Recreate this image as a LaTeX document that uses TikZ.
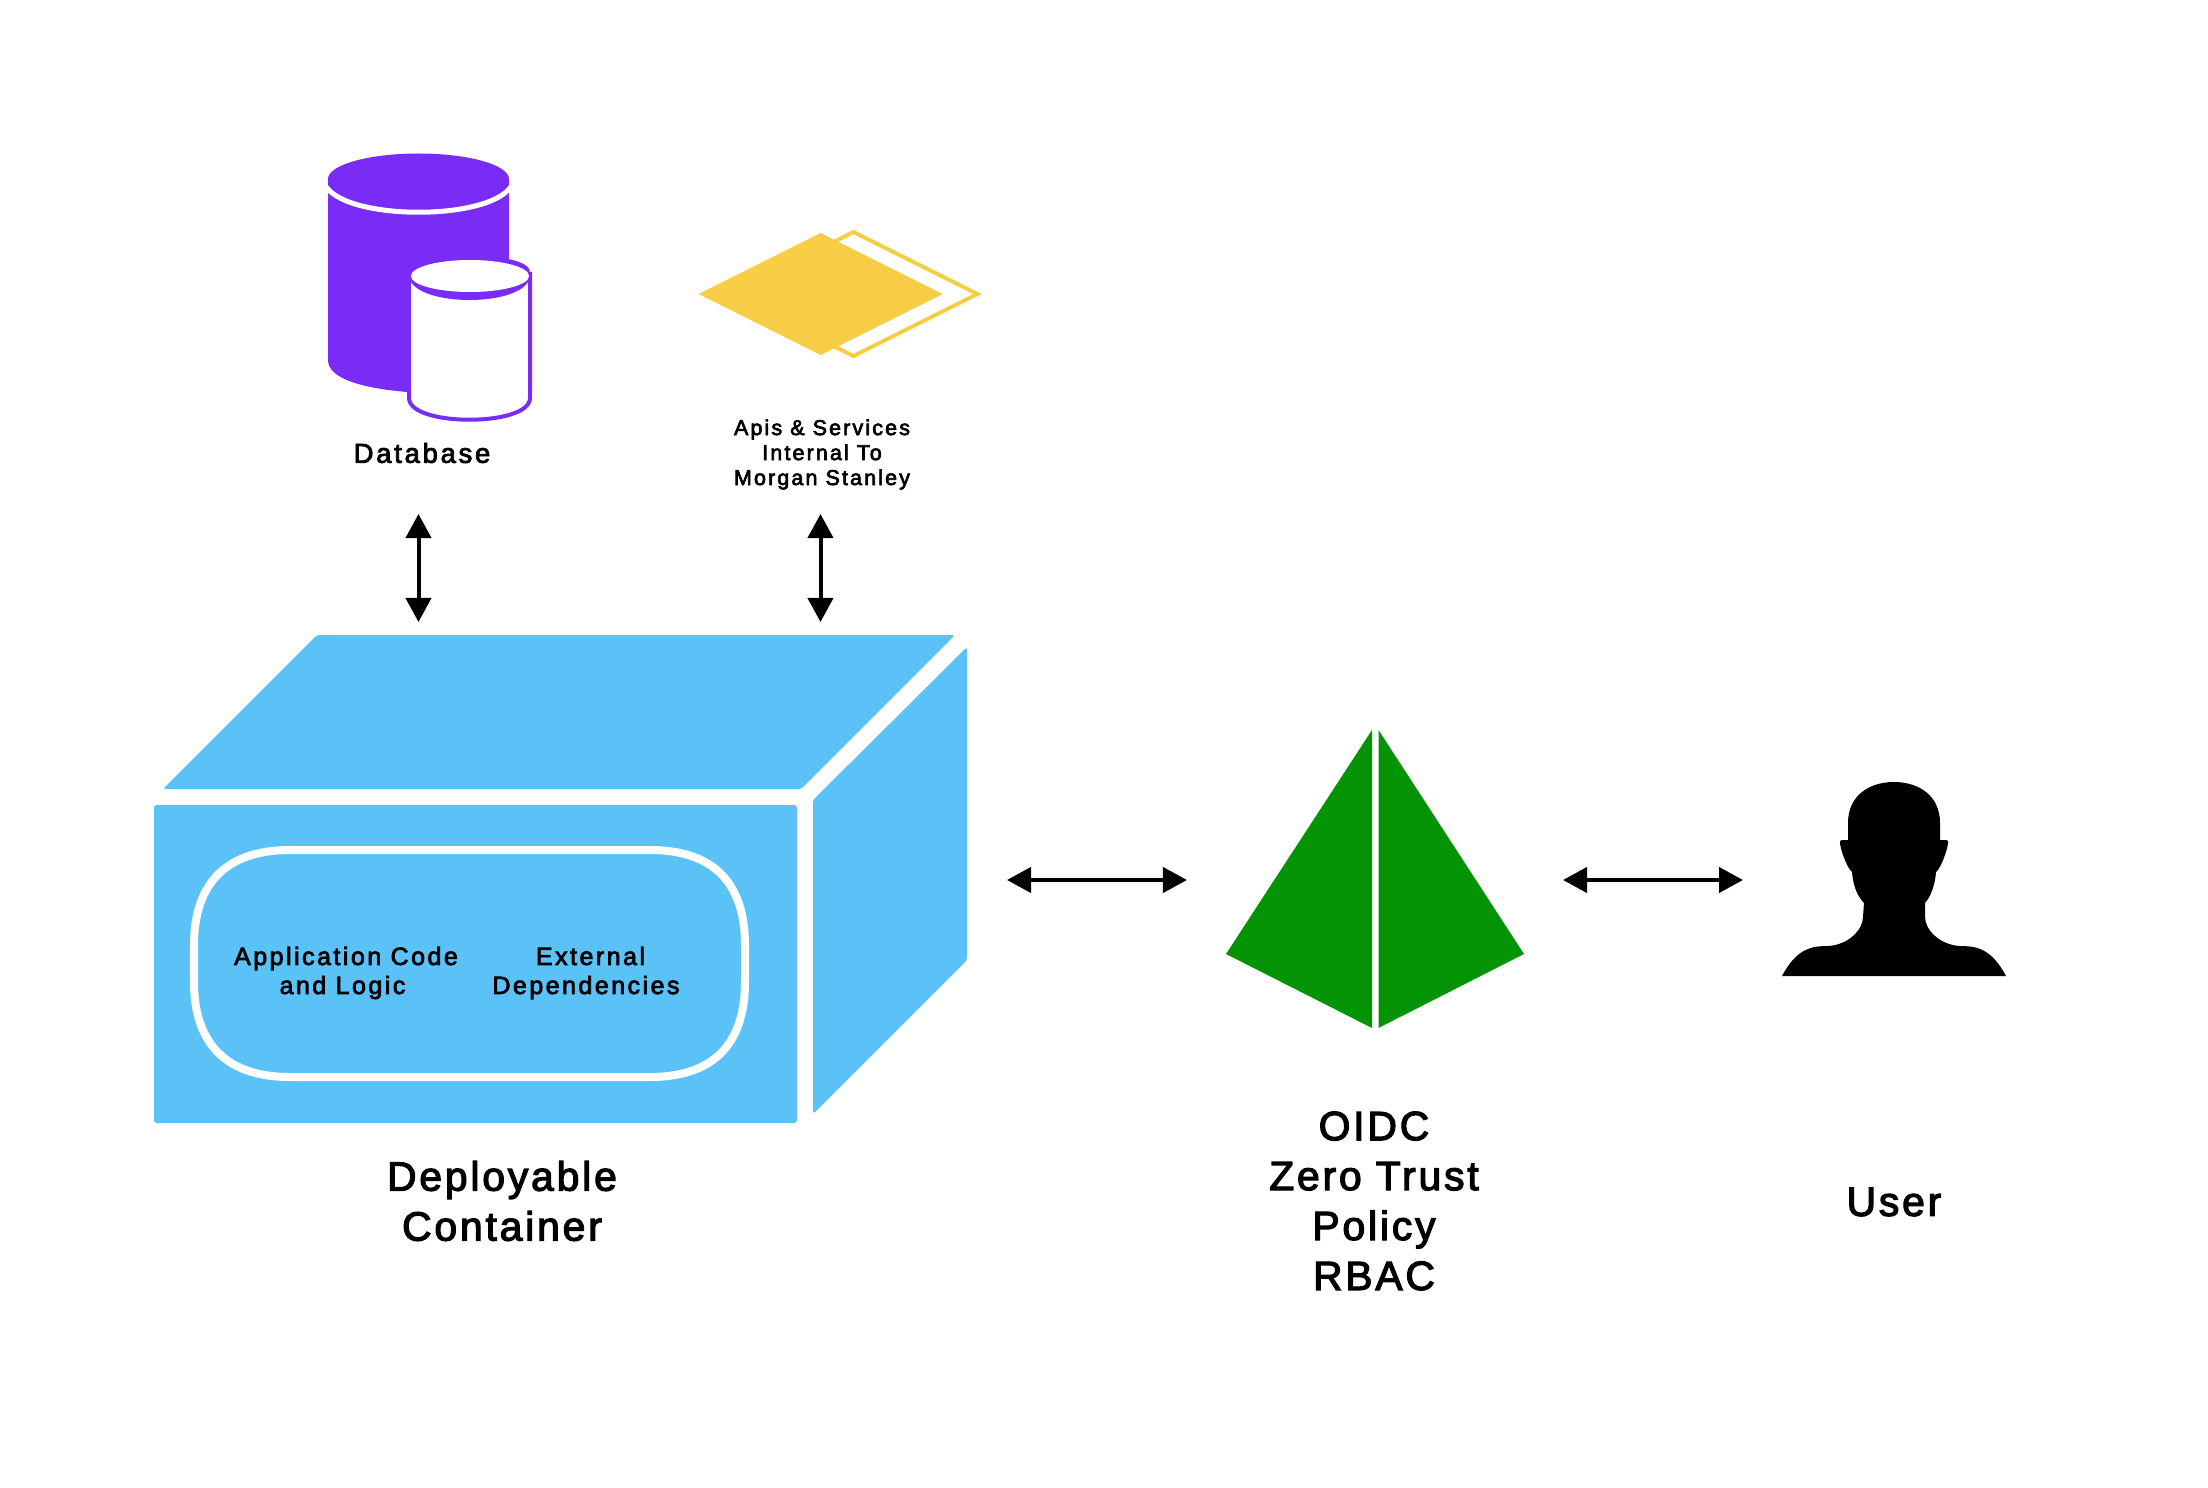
\documentclass[tikz,border=0pt]{standalone}
\usepackage{fontspec}
\newfontfamily\labelfont[LetterSpace=10,FakeBold=3]{Liberation Sans}
\newfontfamily\titlefont[LetterSpace=7,FakeBold=3]{Liberation Sans}
\usetikzlibrary{arrows.meta,positioning}
\definecolor{myblue}{HTML}{5BC2F7}
\definecolor{mypurple}{HTML}{782CF6}
\definecolor{myyellow}{HTML}{F6CD45}
\definecolor{mygreen}{HTML}{049304}
\begin{document}
\begin{tikzpicture}[
    x=0.01cm, y=-0.01cm,
    caption/.style={inner sep=0, align=center, text=black, font=\labelfont\fontsize{7.1}{8.25}\selectfont},
    small caption/.style={caption, font=\labelfont\fontsize{6.1}{7.1}\selectfont},
    title/.style={inner sep=0, align=center, text=black, font=\titlefont\fontsize{11.6}{14.2}\selectfont},
    face/.style={fill=myblue, rounded corners=0.8},
    both ways/.style={{Triangle[length=0.24cm,width=0.25cm]}-{Triangle[length=0.24cm,width=0.25cm]}, line width=0.04cm, black},
  ]
  \useasboundingbox (0,0) rectangle (2208,1488);

  % ------------------------------------------------------------------ database
  \fill[mypurple] (328,180) -- (509,180) -- (509,300) -- (407,392)
    .. controls (360,388) and (328,378) .. (328,360) -- cycle;
  \draw[white, line width=0.05cm] (324,183) .. controls (340,222) and (497,222) .. (513,183);
  \fill[mypurple] (418.5,179) ellipse [x radius=90.5, y radius=25.5];
  \draw[mypurple, line width=0.04cm, fill=white] (530,272) -- (530,398)
    .. controls (530,427) and (409,427) .. (409,398) -- (409,272);
  \fill[mypurple] (409,276) .. controls (412,308) and (527,308) .. (530,276) -- (530,272)
    .. controls (530,250) and (409,250) .. (409,272) -- cycle;
  \fill[white] (470,276) ellipse [x radius=59, y radius=16];
  \node[caption, font=\labelfont\fontsize{7.8}{8.25}\selectfont] (database) at (422,453) {Database};

  % ------------------------------------------------------------------ apis
  \draw[myyellow, line width=0.04cm] (853.5,232) -- (977.5,294) -- (853.5,356) -- (729.5,294) -- cycle;
  \fill[myyellow] (698.5,294) -- (820.5,233) -- (942.5,294) -- (820.5,355) -- cycle;
  \node[small caption] (apis) at (822,454.5) {Apis \& Services\\Internal To\hspace*{0.04cm}\\Morgan Stanley};

  % ------------------------------------------------------------------ container
  \fill[face] (317,635) -- (955,635) -- (801,789) -- (163,789) -- cycle;
  \fill[face] (154,805) rectangle (797,1123);
  \fill[face] (813,800) -- (967,647) -- (967,960) -- (813,1114) -- cycle;
  \draw[white, line width=0.08cm] (290,850) -- (650,850)
    .. controls (720,850) and (745,890) .. (745,945) -- (745,982)
    .. controls (745,1037) and (720,1077) .. (650,1077) -- (290,1077)
    .. controls (220,1077) and (194,1037) .. (194,982) -- (194,945)
    .. controls (194,890) and (220,850) .. (290,850) -- cycle;
  \node[caption] (code) at (346,973) {Application Code\\and Logic\hspace*{0.07cm}};
  \node[caption] (deps) at (586,973) {\hspace*{0.09cm}External\\Dependencies};
  \node[title] (deployable) at (502,1201) {Deployable\\Container};

  % ------------------------------------------------------------------ oidc
  \fill[mygreen] (1372,730) -- (1372,1028) -- (1226,954) -- cycle;
  \fill[mygreen] (1378.5,730) -- (1378.5,1028) -- (1524,954) -- cycle;
  \node[title] (oidc) at (1374,1201) {OIDC\\Zero Trust\\Policy\\RBAC};

  % ------------------------------------------------------------------ user
  \fill[black] (1782,976) .. controls (1797,948) and (1812,946) .. (1828,946)
    .. controls (1848,945) and (1863,930) .. (1863,917) -- (1864,903)
    .. controls (1857,896) and (1853,885) .. (1852,872) -- (1851,871)
    .. controls (1846,866) and (1839,845) .. (1840,841)
    .. controls (1840,840) and (1842,840) .. (1848,840)
    -- (1848,823) .. controls (1848,795) and (1870,782) .. (1894,782)
    .. controls (1918,782) and (1940,795) .. (1940,823) -- (1940,840)
    .. controls (1946,840) and (1948,840) .. (1948,841)
    .. controls (1949,845) and (1942,866) .. (1937,871) -- (1936,872)
    .. controls (1935,885) and (1931,896) .. (1925,903) -- (1925,917)
    .. controls (1925,930) and (1940,945) .. (1960,946)
    .. controls (1976,946) and (1991,948) .. (2006,976) -- cycle;
  \node[title] (user) at (1894,1202) {User};

  % ------------------------------------------------------------------ connectors
  \coordinate (db-up) at (418.5,514);
  \coordinate (db-down) at (418.5,622);
  \coordinate (apis-up) at (820.5,514);
  \coordinate (apis-down) at (820.5,622);
  \coordinate (box-right) at (1007,880);
  \coordinate (oidc-left) at (1187,880);
  \coordinate (oidc-right) at (1563,880);
  \coordinate (user-left) at (1743,880);

  \draw[both ways] (db-up) -- (db-down);
  \draw[both ways] (apis-up) -- (apis-down);
  \draw[both ways] (box-right) -- (oidc-left);
  \draw[both ways] (oidc-right) -- (user-left);
\end{tikzpicture}
\end{document}
